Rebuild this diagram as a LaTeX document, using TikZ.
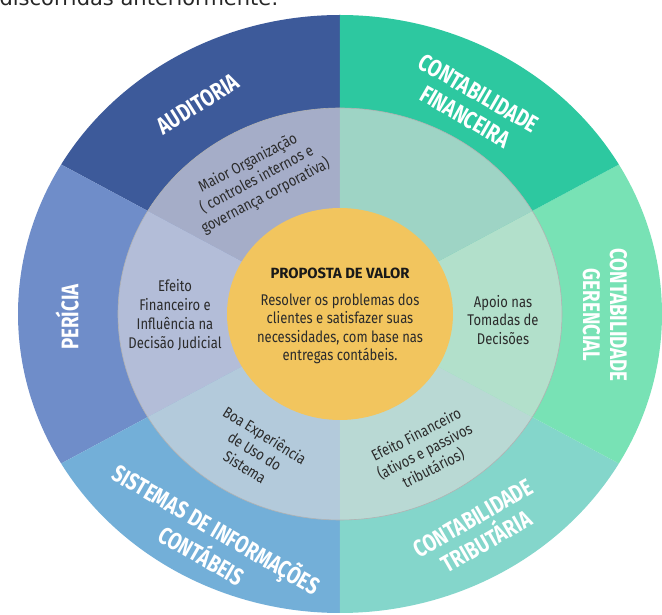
\documentclass[tikz,border=0pt]{standalone}
\usepackage{fontspec}
\setmainfont{Fira Sans}[FakeStretch=0.84]
\newfontfamily\ringfont[FakeStretch=0.78]{Fira Sans}
\newfontfamily\titlefont{Fira Sans}
\newfontfamily\leadfont{DejaVu Sans}
\usetikzlibrary{positioning}

% outer ring
\definecolor{auditoria}{HTML}{3D5A9A}
\definecolor{financeira}{HTML}{2DC8A0}
\definecolor{gerencial}{HTML}{78E2B5}
\definecolor{tributaria}{HTML}{84D6CB}
\definecolor{sistemas}{HTML}{73AFD8}
\definecolor{pericia}{HTML}{6F8DC9}
% middle ring
\definecolor{auditoriaM}{HTML}{A5ADC8}
\definecolor{financeiraM}{HTML}{9ED4C5}
\definecolor{gerencialM}{HTML}{B2E0CB}
\definecolor{tributariaM}{HTML}{B9D9D4}
\definecolor{sistemasM}{HTML}{B3CADB}
\definecolor{periciaM}{HTML}{B3BDD8}
% centre
\definecolor{valor}{HTML}{F2C55E}
\definecolor{letra}{HTML}{2B2B2B}

\tikzset{
  area/.style={font=\ringfont\bfseries\fontsize{24}{27}\selectfont,text=white,align=center},
  ganho/.style={font=\fontsize{15.5}{18.8}\selectfont,text=letra,align=center,inner sep=0pt},
}

\begin{document}
\begin{tikzpicture}[x=1pt,y=1pt]

  \useasboundingbox (-340,-301) rectangle (322,314);
  \clip (-340,-301) rectangle (322,314);

  \node[font=\leadfont\fontsize{21}{24}\selectfont,anchor=base west,text=black!85] (intro) at (-344,308) {discorridas anteriormente:};

  % outer ring
  \fill[auditoria]  (0,0) -- (90:322 and 299)  arc[start angle=90,end angle=150,x radius=322,y radius=299] -- cycle;
  \fill[pericia]    (0,0) -- (150:322 and 299) arc[start angle=150,end angle=210,x radius=322,y radius=299] -- cycle;
  \fill[sistemas]   (0,0) -- (210:322 and 299) arc[start angle=210,end angle=270,x radius=322,y radius=299] -- cycle;
  \fill[tributaria] (0,0) -- (270:322 and 299) arc[start angle=270,end angle=330,x radius=322,y radius=299] -- cycle;
  \fill[gerencial]  (0,0) -- (-30:322 and 299) arc[start angle=-30,end angle=30,x radius=322,y radius=299] -- cycle;
  \fill[financeira] (0,0) -- (30:322 and 299)  arc[start angle=30,end angle=90,x radius=322,y radius=299] -- cycle;

  % middle ring
  \fill[auditoriaM]  (0,0) -- (90:222 and 206)  arc[start angle=90,end angle=150,x radius=222,y radius=206] -- cycle;
  \fill[periciaM]    (0,0) -- (150:222 and 206) arc[start angle=150,end angle=210,x radius=222,y radius=206] -- cycle;
  \fill[sistemasM]   (0,0) -- (210:222 and 206) arc[start angle=210,end angle=270,x radius=222,y radius=206] -- cycle;
  \fill[tributariaM] (0,0) -- (270:222 and 206) arc[start angle=270,end angle=330,x radius=222,y radius=206] -- cycle;
  \fill[gerencialM]  (0,0) -- (-30:222 and 206) arc[start angle=-30,end angle=30,x radius=222,y radius=206] -- cycle;
  \fill[financeiraM] (0,0) -- (30:222 and 206)  arc[start angle=30,end angle=90,x radius=222,y radius=206] -- cycle;
  \draw[black!30,line width=0.6pt] (0,0) ellipse[x radius=222,y radius=206];

  % centre
  \fill[valor] (0,0) ellipse[x radius=113,y radius=106];

  \node[font=\titlefont\bfseries\fontsize{14.8}{18}\selectfont,text=black!90] (titulo) at (0,41) {PROPOSTA DE VALOR};
  \node[ganho,font=\fontsize{15.5}{18.5}\selectfont] (proposta) at (0,-15)
    {Resolver os problemas dos\\clientes e satisfazer suas\\necessidades, com base nas\\entregas contábeis.};

  % areas
  \node[area,rotate=32]  (audit)  at (-142,210) {AUDITORIA};
  \node[area,rotate=-30] (financ) at (132,209)  {CONTABILIDADE\\FINANCEIRA};
  \node[area,rotate=-90] (geren)  at (265,-1)   {CONTABILIDADE\\GERENCIAL};
  \node[area,rotate=30]  (tribut) at (140,-216) {CONTABILIDADE\\TRIBUTÁRIA};
  \node[area,rotate=-30] (sis)    at (-130,-227) {SISTEMAS DE INFORMAÇÕES\\CONTÁBEIS};
  \node[area,rotate=90]  (peric)  at (-273,-3)  {PERÍCIA};

  % gains
  \node[ganho,rotate=28]  (org)   at (-83,134)  {Maior Organização\\( controles internos e\\governança corporativa)};
  \node[ganho]            (apoio) at (163,-6)   {Apoio nas\\Tomadas de\\Decisões};
  \node[ganho,rotate=27]  (efin)  at (85,-138)  {Efeito Financeiro\\(ativos e passivos\\tributários)};
  \node[ganho,rotate=-32] (boa)   at (-85,-137) {Boa Experiência\\de Uso do\\Sistema};
  \node[ganho]            (jud)   at (-165,-1)  {Efeito\\Financeiro e\\Influência na\\Decisão Judicial};

\end{tikzpicture}
\end{document}
